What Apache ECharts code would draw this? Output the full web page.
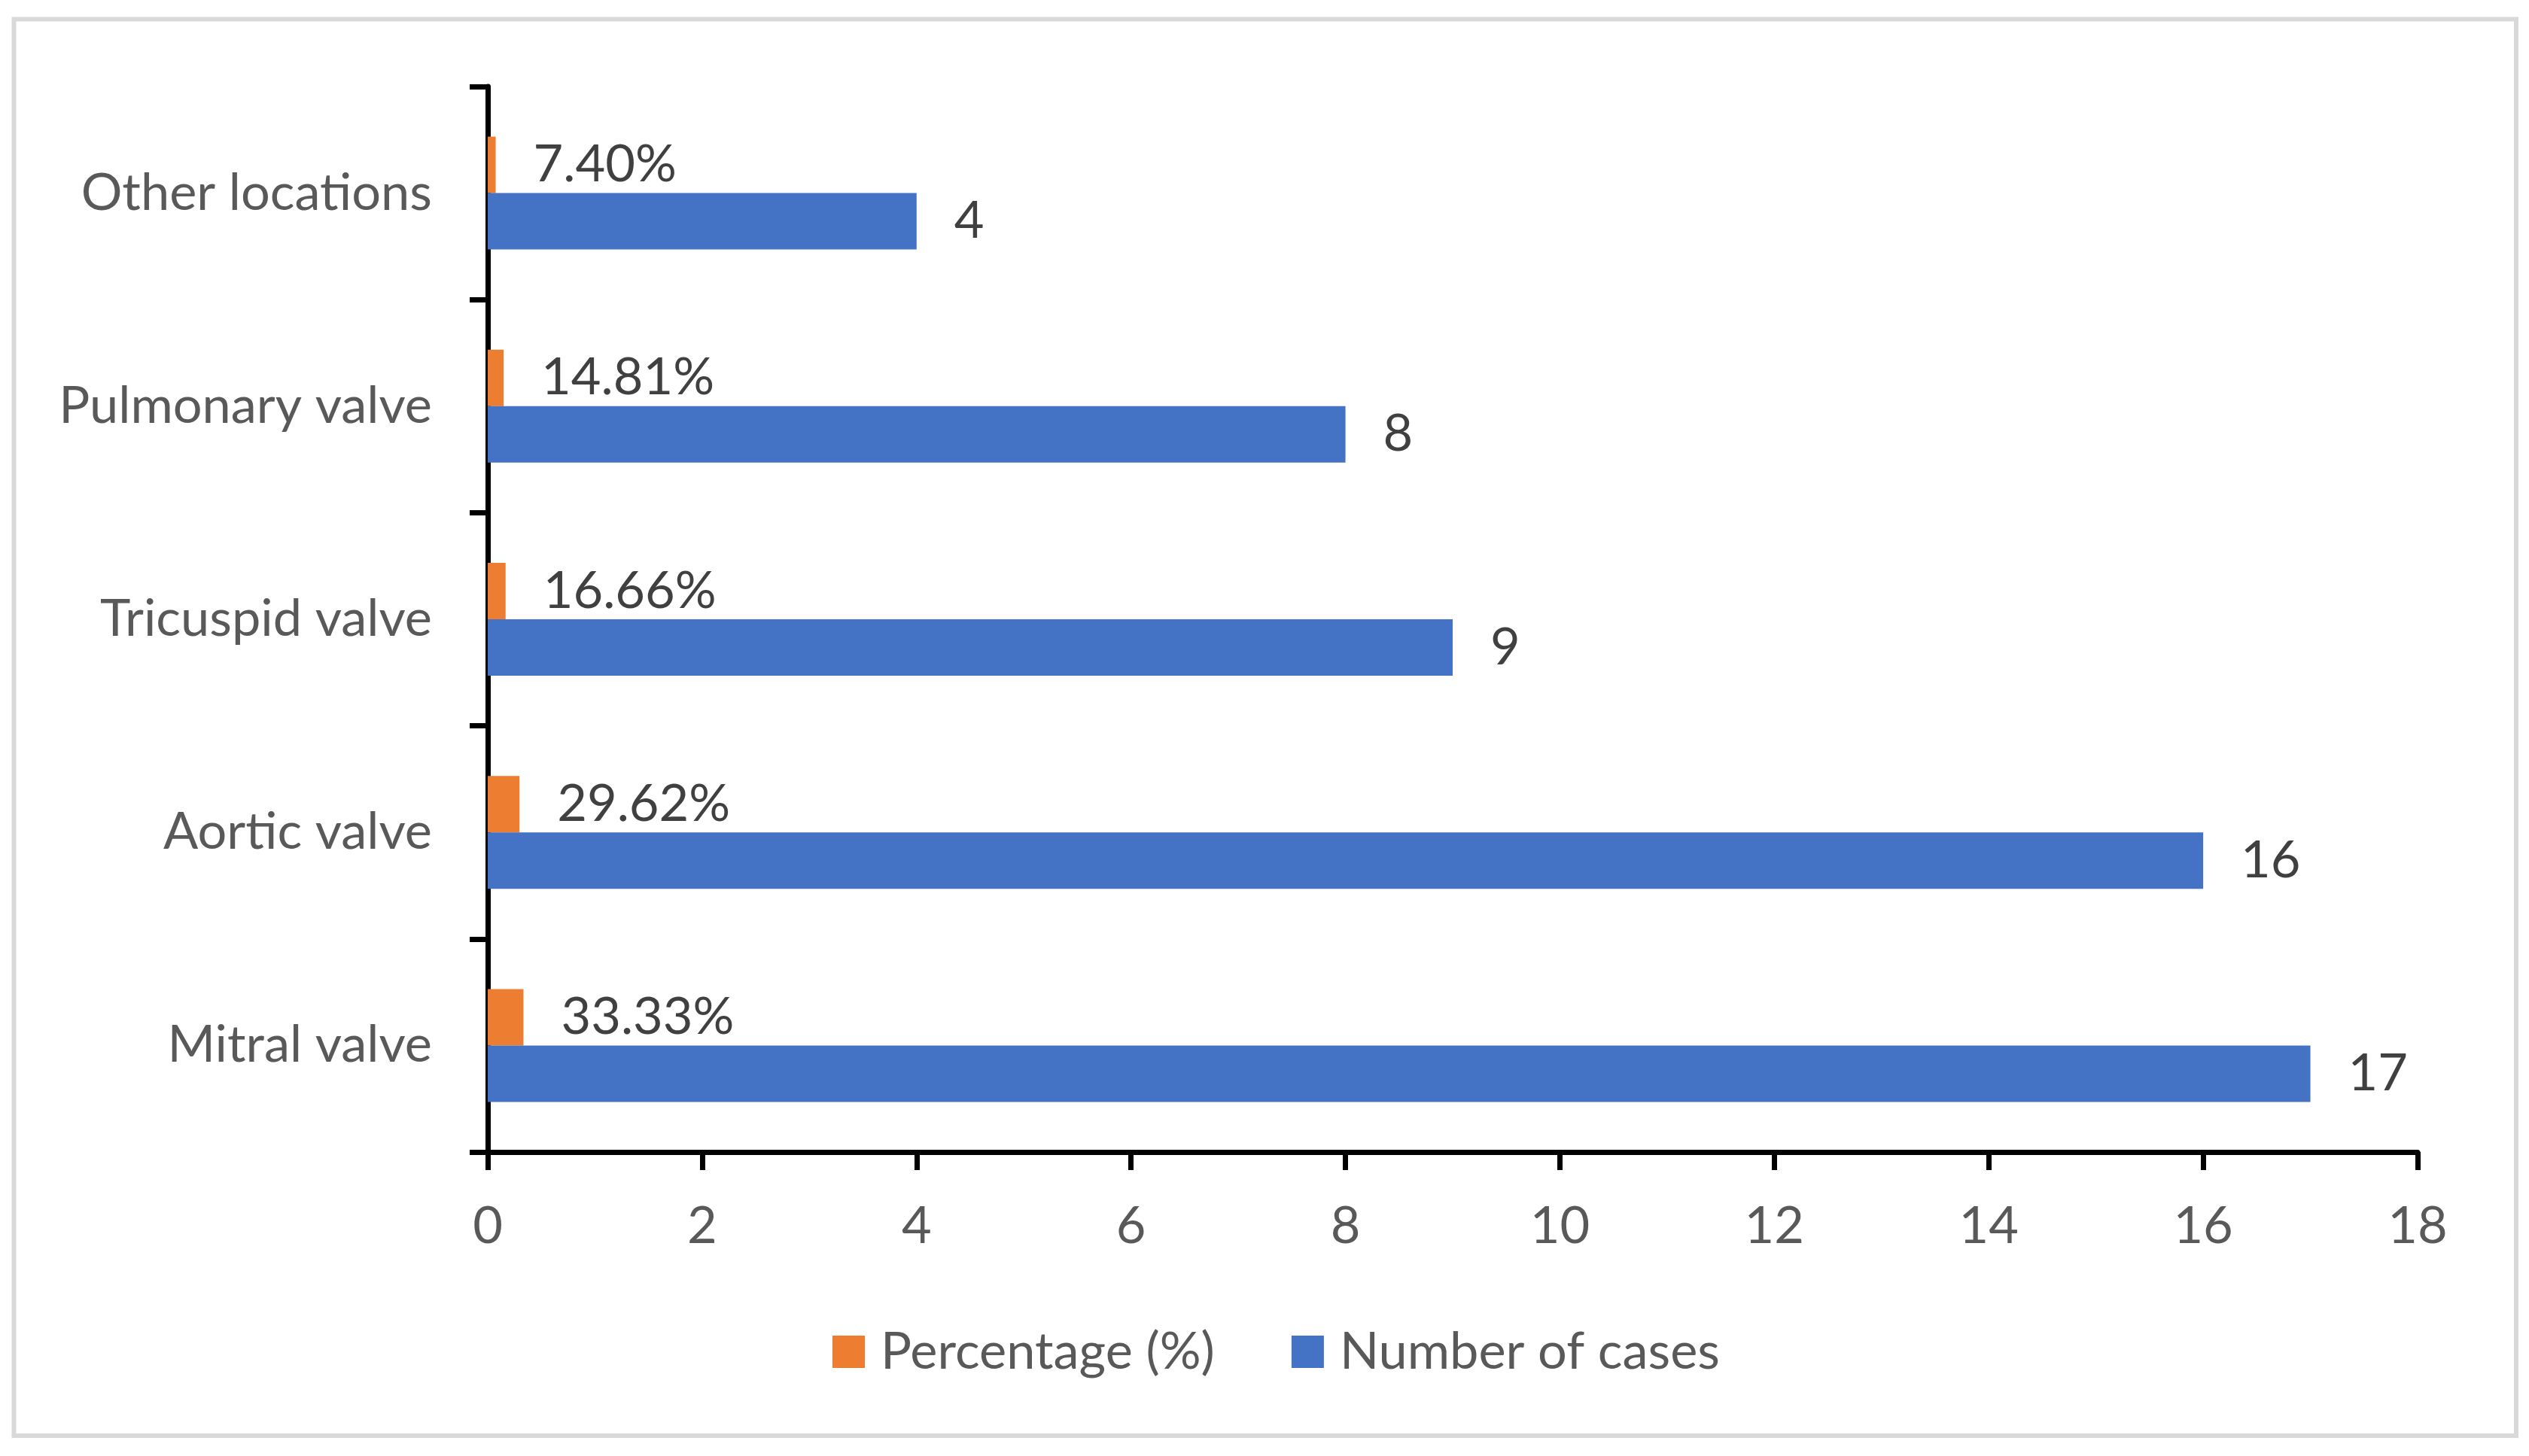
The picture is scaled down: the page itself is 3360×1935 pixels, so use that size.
<!DOCTYPE html>
<html>
<head>
<meta charset="utf-8">
<script src="https://cdn.jsdelivr.net/npm/echarts@6/dist/echarts.min.js"></script>
<style>
html,body{margin:0;padding:0;background:#fff;}
#chart{width:3360px;height:1935px;}
</style>
</head>
<body>
<div id="chart"></div>
<script>
const categories = ['Mitral valve', 'Aortic valve', 'Tricuspid valve', 'Pulmonary valve', 'Other locations'];
const percentageValues = [0.3333, 0.2962, 0.1666, 0.1481, 0.0740];
const caseValues = [17, 16, 9, 8, 4];
const xTicks = [0, 2, 4, 6, 8, 10, 12, 14, 16, 18];
const seriesNames = ['Percentage (%)', 'Number of cases'];

const FONT = 'Lato';
const FS = 68.5;

const chart = echarts.init(document.getElementById('chart'));
chart.setOption({
  animation: false,
  backgroundColor: '#ffffff',
  graphic: [{
    type: 'rect',
    shape: { x: 18.5, y: 25.5, width: 3324.5, height: 1882.5 },
    style: { fill: 'none', stroke: '#D9D9D9', lineWidth: 6 },
    silent: true
  }],
  legend: {
    data: seriesNames,
    left: 1101,
    top: 1757,
    icon: 'rect',
    itemWidth: 43,
    itemHeight: 43,
    itemGap: 102,
    textStyle: { fontFamily: FONT, fontSize: FS, color: '#595959', padding: [0, 0, 0, 16] }
  },
  grid: { left: 648, top: 115, width: 2564, height: 1416, containLabel: false },
  xAxis: {
    type: 'value',
    min: xTicks[0],
    max: xTicks[xTicks.length - 1],
    interval: xTicks[1] - xTicks[0],
    splitLine: { show: false },
    axisLine: { show: true, lineStyle: { color: '#000000', width: 7 } },
    axisTick: { show: true, length: 24, lineStyle: { color: '#000000', width: 7 } },
    axisLabel: { fontFamily: FONT, fontSize: FS, color: '#595959', margin: 64 }
  },
  yAxis: {
    type: 'category',
    data: categories,
    axisLine: { show: true, lineStyle: { color: '#000000', width: 7 } },
    axisTick: { show: true, length: 24, lineStyle: { color: '#000000', width: 7 } },
    axisLabel: { fontFamily: FONT, fontSize: FS, color: '#595959', margin: 74 }
  },
  series: [
    {
      name: seriesNames[0],
      type: 'bar',
      data: percentageValues,
      barWidth: 75,
      barGap: '0%',
      itemStyle: { color: '#ED7D31' },
      label: {
        show: true, position: 'right', distance: 50,
        fontFamily: FONT, fontSize: FS, color: '#404040',
        formatter: p => (p.value * 100).toFixed(2) + '%'
      }
    },
    {
      name: seriesNames[1],
      type: 'bar',
      data: caseValues,
      barWidth: 75,
      barGap: '0%',
      itemStyle: { color: '#4472C4' },
      label: {
        show: true, position: 'right', distance: 50,
        fontFamily: FONT, fontSize: FS, color: '#404040'
      }
    }
  ]
});
</script>
</body>
</html>
